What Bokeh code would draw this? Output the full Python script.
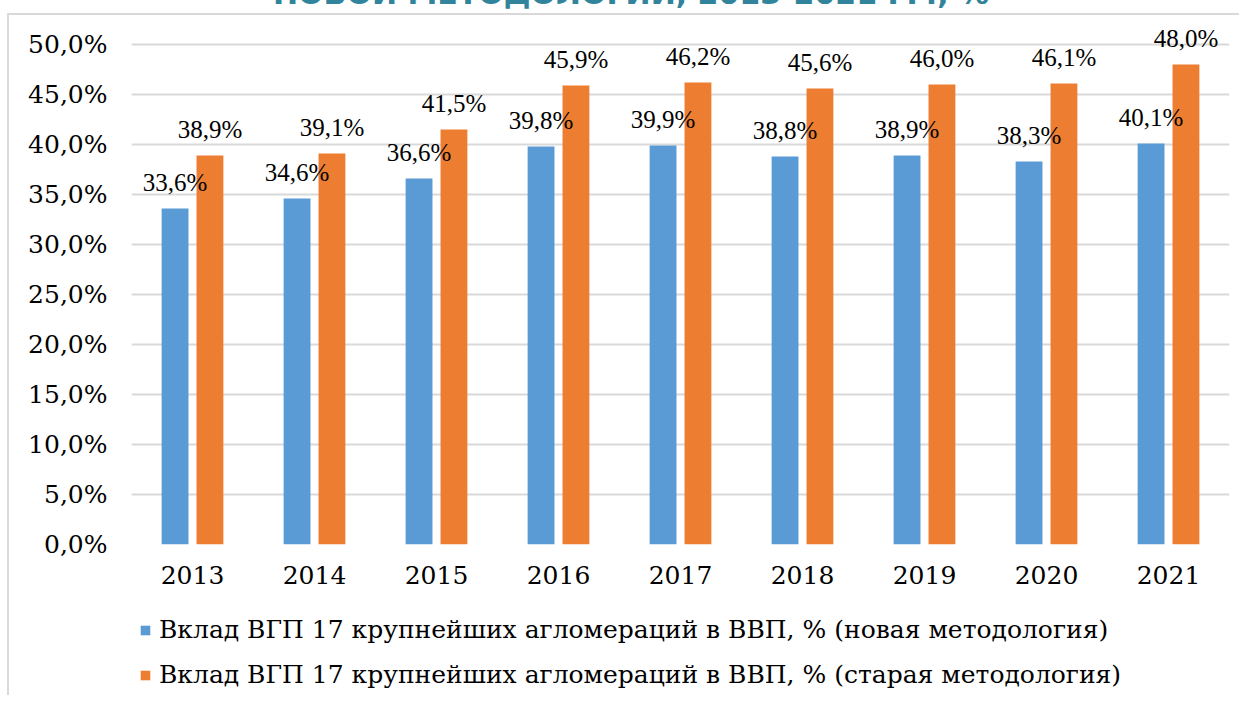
from bokeh.plotting import figure
from bokeh.models import (ColumnDataSource, FactorRange, FixedTicker, Legend, LegendItem,
                          LabelSet, Div, Range1d)
from bokeh.layouts import column
from bokeh.transform import dodge
from bokeh.embed import file_html
from bokeh.resources import INLINE

years = ["2013", "2014", "2015", "2016", "2017", "2018", "2019", "2020", "2021"]
new_method = [33.6, 34.6, 36.6, 39.8, 39.9, 38.8, 38.9, 38.3, 40.1]
old_method = [38.9, 39.1, 41.5, 45.9, 46.2, 45.6, 46.0, 46.1, 48.0]
y_ticks = [0, 5, 10, 15, 20, 25, 30, 35, 40, 45, 50]
series_names = [
    "Вклад ВГП 17 крупнейших агломераций в ВВП, % (новая методология)",
    "Вклад ВГП 17 крупнейших агломераций в ВВП, % (старая методология)",
]
title_text = "НОВОЙ МЕТОДОЛОГИИ, 2013-2021 ГГ., %"

FONT = "DejaVu Serif"
FS = "25px"
BLUE = "#5B9BD5"
ORANGE = "#ED7D31"
GRID = "#D9D9D9"
TEAL = "#31849B"


def fmt(v):
    return f"{v:.1f}".replace(".", ",") + "%"


src = ColumnDataSource(dict(
    year=years,
    new=new_method,
    old=old_method,
    new_lbl=[fmt(v) for v in new_method],
    old_lbl=[fmt(v) for v in old_method],
))

# ---- main chart ----
p = figure(width=1230, height=588, x_range=FactorRange(*years, range_padding=0),
           y_range=(0, 52), output_backend="svg", toolbar_location=None,
           min_border_left=122, min_border_right=10, min_border_top=9,
           min_border_bottom=59)
p.outline_line_color = None
p.background_fill_color = "white"
p.border_fill_color = "white"

r1 = p.vbar(x=dodge("year", -0.143, range=p.x_range), top="new", width=0.22,
            source=src, fill_color=BLUE, line_color=None)
r2 = p.vbar(x=dodge("year", 0.143, range=p.x_range), top="old", width=0.22,
            source=src, fill_color=ORANGE, line_color=None)

for xoff, ycol, lcol in [(-0.143, "new", "new_lbl"), (0.143, "old", "old_lbl")]:
    ls = LabelSet(x=dodge("year", xoff, range=p.x_range), y=ycol, text=lcol, source=src,
                  text_align="center", text_baseline="alphabetic", y_offset=18,
                  text_font=FONT, text_font_size=FS, text_color="#000000")
    p.add_layout(ls)

p.yaxis.ticker = FixedTicker(ticks=y_ticks)
p.yaxis.major_label_overrides = {t: fmt(t) for t in y_ticks}
p.yaxis.axis_line_color = None
p.yaxis.major_tick_line_color = None
p.yaxis.minor_tick_line_color = None
p.yaxis.major_tick_out = 0
p.yaxis.major_label_standoff = 24
p.yaxis.major_label_text_font = FONT
p.yaxis.major_label_text_font_size = FS
p.yaxis.major_label_text_color = "#000000"

p.xaxis.axis_line_color = None
p.xaxis.major_tick_line_color = None
p.xaxis.major_tick_out = 0
p.xaxis.major_label_standoff = 21
p.xaxis.major_label_text_font = FONT
p.xaxis.major_label_text_font_size = FS
p.xaxis.major_label_text_color = "#000000"

p.xgrid.grid_line_color = None
p.ygrid.grid_line_color = GRID
p.ygrid.grid_line_width = 2
p.ygrid.ticker = FixedTicker(ticks=y_ticks)

# ---- legend strip ----
lg = figure(width=1230, height=92, x_range=Range1d(0, 1), y_range=Range1d(0, 1),
            x_axis_location=None, y_axis_location=None,
            output_backend="svg", toolbar_location=None,
            min_border=0, min_border_left=0, min_border_right=0,
            min_border_top=0, min_border_bottom=0)
lg.grid.visible = False
lg.outline_line_color = None
lg.border_fill_color = "white"
# off-range placeholder bars, only used to draw the legend swatches
d1 = lg.vbar(x=[-5], top=[0], width=0.1, fill_color=BLUE, line_color=None)
d2 = lg.vbar(x=[-5], top=[0], width=0.1, fill_color=ORANGE, line_color=None)
legend = Legend(items=[LegendItem(label=series_names[0], renderers=[d1], index=0),
                       LegendItem(label=series_names[1], renderers=[d2], index=0)],
                location=(8, -2), orientation="vertical",
                label_text_font=FONT, label_text_font_size=FS,
                label_text_color="#000000", glyph_width=12, glyph_height=12,
                label_height=45, spacing=0, padding=0, margin=0, label_standoff=8,
                background_fill_alpha=0, border_line_color=None)
lg.add_layout(legend, "center")

# ---- title (only its lower edge is visible in the source image) ----
title = Div(text=(f'<div style="position:relative;height:13px;width:1244px;overflow:hidden;">'
                  f'<div style="position:absolute;left:9px;top:-21px;width:1244px;'
                  f'text-align:center;font-family:\'DejaVu Sans\';font-weight:bold;'
                  f'font-size:30px;line-height:30px;color:{TEAL};white-space:nowrap;">'
                  f'{title_text}</div></div>'),
            width=1244, height=13,
            styles={"overflow": "hidden", "height": "13px", "margin": "0", "padding": "0"})

body = column(p, lg, spacing=0,
              styles={"margin-left": "7px", "border-top": f"2px solid {GRID}",
                      "border-left": f"2px solid {GRID}"})
page = column(title, body, spacing=0)

open("out.html", "w").write(file_html(page, INLINE))
